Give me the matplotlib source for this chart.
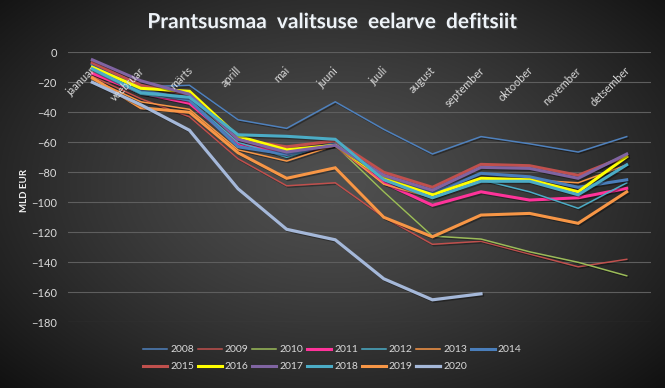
import numpy as np
import matplotlib
matplotlib.use('Agg')
import matplotlib.pyplot as plt
import matplotlib.patheffects as pe

plt.rcParams['font.family'] = ['Lato', 'DejaVu Sans']

months = ['jaanuar', 'veebruar', 'märts', 'aprill', 'mai', 'juuni',
          'juuli', 'august', 'september', 'oktoober', 'november', 'detsember']

# kumulatiivne defitsiit, mld EUR (loetud pildilt)
y2008 = [-9, -23, -22, -45, -50.7, -33, -51.4, -67.8, -56.2, -61, -66.5, -56.2]
y2009 = [-16, -31, -43, -71, -89, -87, -110, -128, -126, -134.5, -143, -138]
y2010 = [-13, -27, -33, -62, -66, -62, -93, -122.5, -124.5, -133, -140, -149]
y2011 = [-14, -27, -34, -61, -68, -62, -87, -102, -93, -98.5, -97, -90.7]
y2012 = [-12, -28, -32, -60, -70, -60, -85, -97, -85, -93, -104, -87]
y2013 = [-18, -33, -38, -65, -72.5, -62, -88, -97, -85, -85, -87, -75]
y2014 = [-8, -25, -32, -63, -68, -61, -83, -94, -80.7, -83, -90, -85]
y2015 = [-7, -22, -28, -58, -63, -59, -80, -90, -74.7, -75.6, -82, -69]
y2016 = [-10, -24, -26, -56, -65, -62, -84, -95, -84, -85, -93, -69.6]
y2017 = [-5, -19, -28, -58, -66.5, -62, -82, -92, -76.7, -77.4, -84, -67.8]
y2018 = [-11, -27, -30, -55, -56, -58, -85, -97, -86, -86, -95, -75]
y2019 = [-17, -37, -40, -67, -84, -77, -110, -123, -108.5, -107.4, -114, -93]
y2020 = [-20, -35, -52, -91, -118, -125, -151, -165, -161]

years = ['2008', '2009', '2010', '2011', '2012', '2013', '2014',
         '2015', '2016', '2017', '2018', '2019', '2020']
data = [y2008, y2009, y2010, y2011, y2012, y2013, y2014,
        y2015, y2016, y2017, y2018, y2019, y2020]
colors = ['#4F81BD', '#C0504D', '#9BBB59', '#FF339A', '#4BACC6', '#F79646', '#4A7EBB',
          '#C0504D', '#FFFF00', '#8064A2', '#4BACC6', '#F79646', '#A5B8D9']
widths = [1.1, 1.1, 1.1, 2.2, 1.1, 1.1, 2.2, 2.2, 2.2, 2.2, 2.2, 2.2, 2.3]

fig = plt.figure(figsize=(6.65, 3.88), dpi=100)

# taust: tume radiaalne gradient
bg = fig.add_axes([0, 0, 1, 1], zorder=-10)
gx, gy = np.meshgrid(np.linspace(-1, 1, 400), np.linspace(-1, 1, 240))
r = np.sqrt((gx / 1.0) ** 2 + ((gy + 0.05) / 1.1) ** 2)
val = 0.31 - 0.16 * np.clip(r, 0, 1.4) ** 1.3
bg.imshow(np.dstack([val, val, val]).clip(0, 1), aspect='auto', extent=[0, 1, 0, 1])
bg.axis('off')

ax = fig.add_axes([0.1023, 0.1693, 0.8767, 0.6959])
ax.patch.set_alpha(0)

shadow = [pe.SimpleLineShadow(offset=(1, -1), alpha=0.35), pe.Normal()]
for yr, vals, c, w in zip(years, data, colors, widths):
    ax.plot(range(len(vals)), vals, color=c, lw=w, label=yr,
            solid_joinstyle='miter', path_effects=shadow)

ax.set_xlim(-0.5, 11.5)
ax.set_ylim(-180, 0)
ax.set_yticks(range(-180, 1, 20))
ax.grid(axis='y', color='#5E5E5E', lw=0.8)
ax.set_axisbelow(True)
for s in ax.spines.values():
    s.set_visible(False)
ax.tick_params(axis='y', length=0, pad=8, labelsize=8, labelcolor='#D9D9D9')
ax.set_xticks([])

for i, m in enumerate(months):
    ax.text(i + 0.03, -11, m, rotation=45, ha='right', va='center',
            rotation_mode='anchor', fontsize=7.8, color='#D9D9D9')

fig.text(0.037, 0.51, 'MLD EUR', rotation=90, ha='center', va='center',
         fontsize=7, fontweight='bold', color='#F2F2F2')

fig.text(0.5, 0.943, 'Prantsusmaa  valitsuse  eelarve  defitsiit', ha='center', va='center',
         fontsize=15, fontweight='bold', color='#EEF3F8',
         path_effects=[pe.SimplePatchShadow(offset=(1, -1), alpha=0.7), pe.Normal()])

handles, labels = ax.get_legend_handles_labels()
order = [0, 7, 1, 8, 2, 9, 3, 10, 4, 11, 5, 12, 6]
leg = fig.legend([handles[k] for k in order], [labels[k] for k in order],
                 ncol=7, loc='center', bbox_to_anchor=(0.5, 0.077), frameon=False,
                 fontsize=7.5, labelcolor='#D9D9D9', handlelength=2.3,
                 handletextpad=0.3, columnspacing=0.35, labelspacing=0.75)
for h in leg.legend_handles:
    h.set_path_effects([])

fig.savefig('out.png', dpi=100)
